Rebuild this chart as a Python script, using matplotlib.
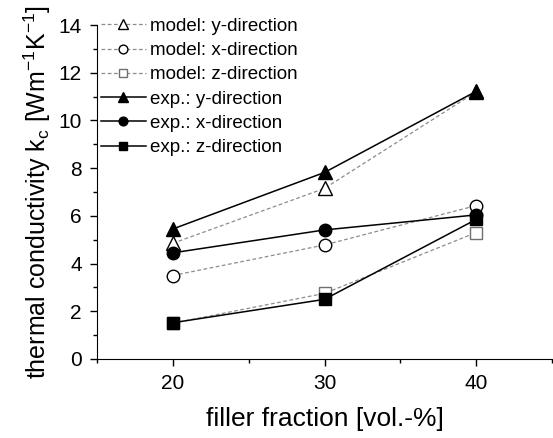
import matplotlib
matplotlib.use("Agg")
import matplotlib.pyplot as plt
from matplotlib.ticker import MultipleLocator

plt.rcParams['font.family'] = ['Liberation Sans', 'DejaVu Sans']
plt.rcParams['mathtext.fontset'] = 'custom'
plt.rcParams['mathtext.rm'] = 'Liberation Sans'
plt.rcParams['mathtext.it'] = 'Liberation Sans'

filler = [20, 30, 40]
model_y = [4.85, 7.15, 11.2]
model_x = [3.5, 4.78, 6.43]
model_z = [1.5, 2.75, 5.3]
exp_y = [5.45, 7.82, 11.22]
exp_x = [4.45, 5.41, 6.04]
exp_z = [1.52, 2.5, 5.85]


def main():
    fig = plt.figure(figsize=(5.53, 4.38), dpi=100)
    ax = fig.add_axes([97/553, 79/438, 455/553, 334/438])

    gray = '#8c8c8c'
    ax.plot(filler, model_y, ls='--', lw=0.9, color=gray, marker='^', ms=10,
            mfc='white', mec='black', mew=1, label='model: y-direction', dashes=(3, 2))
    ax.plot(filler, model_x, ls='--', lw=0.9, color=gray, marker='o', ms=9,
            mfc='white', mec='black', mew=1, label='model: x-direction', dashes=(3, 2))
    ax.plot(filler, model_z, ls='--', lw=0.9, color=gray, marker='s', ms=8,
            mfc='white', mec='#707070', mew=1, label='model: z-direction', dashes=(3, 2))
    ax.plot(filler, exp_y, ls='-', lw=1.1, color='black', marker='^', ms=10,
            mfc='black', mec='black', label='exp.: y-direction')
    ax.plot(filler, exp_x, ls='-', lw=1.1, color='black', marker='o', ms=9,
            mfc='black', mec='black', label='exp.: x-direction')
    ax.plot(filler, exp_z, ls='-', lw=1.1, color='black', marker='s', ms=8,
            mfc='black', mec='black', label='exp.: z-direction')

    ax.set_xlim(15, 45)
    ax.set_ylim(0, 14)
    ax.xaxis.set_major_locator(MultipleLocator(10))
    ax.xaxis.set_minor_locator(MultipleLocator(5))
    ax.yaxis.set_major_locator(MultipleLocator(2))
    ax.yaxis.set_minor_locator(MultipleLocator(1))
    ax.spines['top'].set_visible(False)
    ax.spines['right'].set_visible(False)
    ax.tick_params(which='major', length=5, width=1, labelsize=15, pad=6)
    ax.tick_params(which='minor', length=3, width=1)
    ax.set_xticks([20, 30, 40])

    ax.set_xlabel('filler fraction [vol.-%]', fontsize=19, labelpad=10)
    ax.set_ylabel('thermal conductivity k$_\\mathregular{c}$ [Wm$^\\mathregular{-1}$K$^\\mathregular{-1}$]',
                  fontsize=18, labelpad=4)

    ax.legend(loc='upper left', bbox_to_anchor=(0.0, 1.033), frameon=False,
              fontsize=13.5, handlelength=2.4, handletextpad=0.25,
              labelspacing=0.38, borderaxespad=0.0, borderpad=0.2,
              markerscale=0.7)

    fig.savefig('out.png', dpi=100)


if __name__ == "__main__":
    main()
